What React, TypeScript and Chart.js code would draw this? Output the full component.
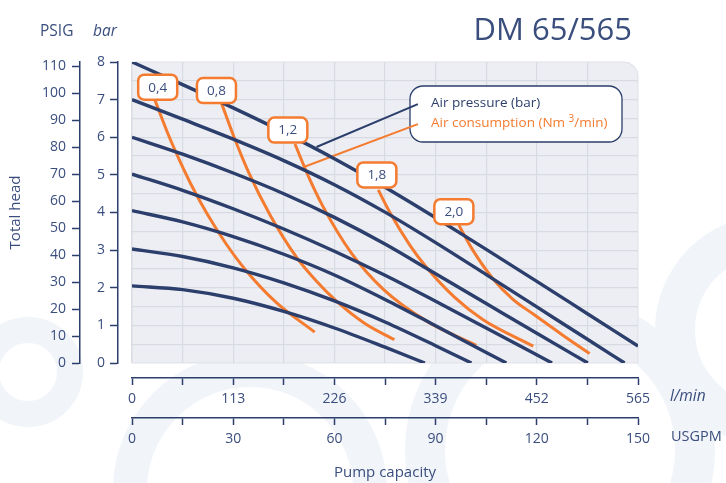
import { useEffect, useRef } from "react";
import { Chart, registerables } from "chart.js";

Chart.register(...registerables);

// ---------- axes ----------
const LPM_RANGE = [0, 565];
const USGPM_RANGE = [0, 150];
const BAR_RANGE = [0, 8];
const PSIG_RANGE = [0, 111.6];

const LPM_TICKS = [0, 56.5, 113, 169.5, 226, 282.5, 339, 395.5, 452, 508.5, 565];
const LPM_LABELS = [0, 113, 226, 339, 452, 565];
const USGPM_TICKS = [0, 15, 30, 45, 60, 75, 90, 105, 120, 135, 150];
const USGPM_LABELS = [0, 30, 60, 90, 120, 150];
const BAR_TICKS = [0, 1, 2, 3, 4, 5, 6, 7, 8];
const PSIG_TICKS = [0, 10, 20, 30, 40, 50, 60, 70, 80, 90, 100, 110];
const GRID_LPM = [0, 56.5, 113, 169.5, 226, 282.5, 339, 395.5, 452, 508.5];
const GRID_BAR = [0.5, 1, 1.5, 2, 2.5, 3, 3.5, 4, 4.5, 5, 5.5, 6, 6.5, 7, 7.5];

// ---------- air pressure curves (l/min -> bar) ----------
const P8_LPM = [0, 56.5, 113, 169.5, 226, 282.5, 339, 395.5, 452, 508.5, 565];
const P8_BAR = [8.0, 7.4, 6.78, 6.13, 5.43, 4.67, 3.86, 3.02, 2.17, 1.31, 0.45];
const P7_LPM = [0, 56.5, 113, 169.5, 226, 282.5, 339, 395.5, 452, 508.5, 550];
const P7_BAR = [7.0, 6.48, 5.95, 5.38, 4.74, 4.01, 3.2, 2.35, 1.49, 0.63, 0];
const P6_LPM = [0, 56.5, 113, 169.5, 226, 282.5, 339, 395.5, 452, 509];
const P6_BAR = [6.0, 5.55, 5.05, 4.5, 3.87, 3.16, 2.37, 1.58, 0.79, 0];
const P5_LPM = [0, 56.5, 113, 169.5, 226, 282.5, 339, 395.5, 469];
const P5_BAR = [5.02, 4.59, 4.1, 3.56, 2.97, 2.33, 1.64, 0.93, 0];
const P4_LPM = [0, 56.5, 113, 169.5, 226, 282.5, 339, 395.5, 418];
const P4_BAR = [4.05, 3.75, 3.36, 2.89, 2.34, 1.69, 0.99, 0.28, 0];
const P3_LPM = [0, 56.5, 113, 169.5, 226, 282.5, 339, 379];
const P3_BAR = [3.03, 2.83, 2.53, 2.13, 1.65, 1.09, 0.46, 0];
const P2_LPM = [0, 56.5, 113, 169.5, 226, 282.5, 327];
const P2_BAR = [2.05, 1.95, 1.72, 1.37, 0.93, 0.42, 0];

// ---------- air consumption curves (l/min -> bar) ----------
const C04_LPM = [25.4, 40, 54, 68, 83, 105, 128, 161, 204];
const C04_BAR = [7.0, 6.1, 5.34, 4.65, 4.0, 3.17, 2.44, 1.61, 0.82];
const C08_LPM = [100, 114, 130, 154, 184, 205, 228, 260, 293];
const C08_BAR = [6.9, 6.0, 5.08, 3.94, 2.8, 2.2, 1.65, 1.05, 0.62];
const C12_LPM = [182, 197, 213, 245, 281, 328.5, 384.4];
const C12_BAR = [5.82, 4.96, 4.17, 2.92, 1.95, 1.12, 0.47];
const C18_LPM = [275, 288, 310, 328.5, 360, 392, 448];
const C18_BAR = [4.6, 4.0, 3.14, 2.55, 1.75, 1.15, 0.45];
const C20_LPM = [365, 380, 403, 425, 448, 481, 511];
const C20_BAR = [3.66, 3.02, 2.24, 1.7, 1.3, 0.74, 0.25];

// ---------- curve labels ----------
const LABEL_TEXT = ["0,4", "0,8", "1,2", "1,8", "2,0"];
const LABEL_LPM = [28.7, 94.3, 174, 273.4, 359.4];
const LABEL_BAR = [7.33, 7.24, 6.19, 5.0, 4.02];

// ---------- legend leader lines ----------
const LEAD_PRESSURE_LPM = [319.2, 206];
const LEAD_PRESSURE_BAR = [6.88, 5.74];
const LEAD_AIR_LPM = [319.2, 191.8];
const LEAD_AIR_BAR = [6.35, 5.21];

const NAVY = "#2b3e6c";
const ORANGE = "#f47b2f";
const TEXT = "#3a4e7e";
const GRID = "#d8dbe2";
const PLOT_BG = "#eceef3";
const FONT = '"Open Sans", sans-serif';

const pts = (xs: number[], ys: number[]) => xs.map((x, i) => ({ x, y: ys[i] }));

function roundRect(ctx: CanvasRenderingContext2D, x: number, y: number, w: number, h: number, r: number) {
  ctx.beginPath();
  ctx.moveTo(x + r, y);
  ctx.lineTo(x + w - r, y);
  ctx.arcTo(x + w, y, x + w, y + r, r);
  ctx.lineTo(x + w, y + h - r);
  ctx.arcTo(x + w, y + h, x + w - r, y + h, r);
  ctx.lineTo(x + r, y + h);
  ctx.arcTo(x, y + h, x, y + h - r, r);
  ctx.lineTo(x, y + r);
  ctx.arcTo(x, y, x + r, y, r);
  ctx.closePath();
}

const decor = {
  id: "decor",
  beforeDraw(chart: any) {
    const { ctx, chartArea: a } = chart;
    ctx.save();
    ctx.fillStyle = "#ffffff";
    ctx.fillRect(0, 0, chart.width, chart.height);
    // faint background swirls
    ctx.strokeStyle = "#f1f4f9";
    const rings = [
      [28, 372, 42, 26],
      [250, 490, 120, 34],
      [560, 450, 135, 40],
      [770, 330, 95, 40],
    ];
    rings.forEach(([cx, cy, r, w]) => {
      ctx.lineWidth = w;
      ctx.beginPath();
      ctx.arc(cx, cy, r, 0, Math.PI * 2);
      ctx.stroke();
    });
    // plot background with rounded top-right corner
    const r = 14;
    ctx.beginPath();
    ctx.moveTo(a.left, a.top);
    ctx.lineTo(a.right - r, a.top);
    ctx.arcTo(a.right, a.top, a.right, a.top + r, r);
    ctx.lineTo(a.right, a.bottom);
    ctx.lineTo(a.left, a.bottom);
    ctx.closePath();
    ctx.fillStyle = PLOT_BG;
    ctx.fill();
    ctx.strokeStyle = "#dfe1e7";
    ctx.lineWidth = 1;
    ctx.stroke();
    ctx.restore();
  },
  beforeDatasetsDraw(chart: any) {
    const { ctx, chartArea: a } = chart;
    ctx.save();
    // legend box
    const bx = a.left + 278, by = a.top + 24, bw = 212, bh = 56;
    roundRect(ctx, bx, by, bw, bh, 13);
    ctx.fillStyle = "#ffffff";
    ctx.fill();
    ctx.strokeStyle = NAVY;
    ctx.lineWidth = 1.3;
    ctx.stroke();
    ctx.textBaseline = "middle";
    ctx.textAlign = "left";
    ctx.font = `13.5px ${FONT}`;
    ctx.fillStyle = NAVY;
    ctx.fillText("Air pressure (bar)", bx + 21, by + 17.5);
    ctx.fillStyle = ORANGE;
    const t1 = "Air consumption (Nm ";
    ctx.fillText(t1, bx + 21, by + 37);
    let x = bx + 21 + ctx.measureText(t1).width;
    ctx.font = `10px ${FONT}`;
    ctx.fillText("3", x, by + 33);
    x += ctx.measureText("3").width;
    ctx.font = `13.5px ${FONT}`;
    ctx.fillText("/min)", x, by + 37);
    ctx.restore();
  },
  afterDatasetsDraw(chart: any) {
    const { ctx } = chart;
    const xs = chart.scales.x, ys = chart.scales.y;
    ctx.save();
    LABEL_TEXT.forEach((t, i) => {
      const cx = xs.getPixelForValue(LABEL_LPM[i]);
      const cy = ys.getPixelForValue(LABEL_BAR[i]);
      const w = 39, h = 25;
      roundRect(ctx, cx - w / 2, cy - h / 2, w, h, 6);
      ctx.fillStyle = "#ffffff";
      ctx.fill();
      ctx.strokeStyle = ORANGE;
      ctx.lineWidth = 2.5;
      ctx.stroke();
      ctx.fillStyle = TEXT;
      ctx.font = `13.5px ${FONT}`;
      ctx.textAlign = "center";
      ctx.textBaseline = "middle";
      ctx.fillText(t, cx, cy + 0.5);
    });
    ctx.restore();
  },
  afterDraw(chart: any) {
    const { ctx } = chart;
    ctx.save();
    ctx.fillStyle = TEXT;
    ctx.textBaseline = "middle";
    ctx.textAlign = "left";
    ctx.font = `15.5px ${FONT}`;
    ctx.fillText("PSIG", 40, 32);
    ctx.font = `italic 15.5px ${FONT}`;
    ctx.fillText("bar", 93, 32);
    ctx.font = `italic 15.5px ${FONT}`;
    ctx.fillText("l/min", 670, 397);
    ctx.font = `14.5px ${FONT}`;
    ctx.fillText("USGPM", 671, 437);
    ctx.font = `31px ${FONT}`;
    ctx.textAlign = "right";
    ctx.textBaseline = "alphabetic";
    ctx.fillText("DM 65/565", 632, 40);
    ctx.restore();
  },
};

const tickFont = { family: FONT, size: 14 };

export default function App() {
  const ref = useRef<HTMLCanvasElement | null>(null);
  useEffect(() => {
    if (!ref.current) return;
    const navyLine = (xs: number[], ys: number[]) => ({
      data: pts(xs, ys),
      borderColor: NAVY,
      borderWidth: 3.4,
      pointRadius: 0,
      cubicInterpolationMode: "monotone" as const,
      fill: false,
    });
    const orangeLine = (xs: number[], ys: number[]) => ({
      data: pts(xs, ys),
      borderColor: ORANGE,
      borderWidth: 3,
      pointRadius: 0,
      cubicInterpolationMode: "monotone" as const,
      fill: false,
    });
    const lead = (xs: number[], ys: number[], c: string) => ({
      data: pts(xs, ys),
      borderColor: c,
      borderWidth: 2,
      pointRadius: 0,
      tension: 0,
      fill: false,
    });
    const chart = new Chart(ref.current, {
      type: "line",
      data: {
        datasets: [
          navyLine(P8_LPM, P8_BAR),
          navyLine(P7_LPM, P7_BAR),
          navyLine(P6_LPM, P6_BAR),
          navyLine(P5_LPM, P5_BAR),
          navyLine(P4_LPM, P4_BAR),
          navyLine(P3_LPM, P3_BAR),
          navyLine(P2_LPM, P2_BAR),
          orangeLine(C04_LPM, C04_BAR),
          orangeLine(C08_LPM, C08_BAR),
          orangeLine(C12_LPM, C12_BAR),
          orangeLine(C18_LPM, C18_BAR),
          orangeLine(C20_LPM, C20_BAR),
          lead(LEAD_PRESSURE_LPM, LEAD_PRESSURE_BAR, NAVY),
          lead(LEAD_AIR_LPM, LEAD_AIR_BAR, ORANGE),
        ] as any,
      },
      options: {
        animation: false,
        responsive: false,
        devicePixelRatio: 1,
        events: [],
        layout: { padding: { left: 0, right: 88, top: 62, bottom: 0 } },
        plugins: { legend: { display: false }, tooltip: { enabled: false } },
        scales: {
          xg: {
            type: "linear",
            position: "bottom",
            weight: 0,
            min: LPM_RANGE[0],
            max: LPM_RANGE[1],
            afterBuildTicks: (s: any) => { s.ticks = GRID_LPM.map((value) => ({ value })); },
            afterFit: (s: any) => { s.height = 15; },
            ticks: { display: false },
            grid: { color: GRID, lineWidth: 1.2, drawTicks: false },
            border: { display: false },
          },
          x: {
            type: "linear",
            position: "bottom",
            weight: 1,
            min: LPM_RANGE[0],
            max: LPM_RANGE[1],
            afterBuildTicks: (s: any) => { s.ticks = LPM_TICKS.map((value) => ({ value })); },
            afterFit: (s: any) => { s.height = 40; },
            ticks: {
              autoSkip: false,
              maxRotation: 0,
              padding: 6,
              color: TEXT,
              font: tickFont,
              callback: (v: any) => (LPM_LABELS.includes(Number(v)) ? String(v) : ""),
            },
            grid: { drawOnChartArea: false, tickLength: 7, tickColor: NAVY, tickWidth: 1.5 },
            border: { color: NAVY, width: 1.5 },
          },
          xu: {
            type: "linear",
            position: "bottom",
            weight: 2,
            min: USGPM_RANGE[0],
            max: USGPM_RANGE[1],
            afterBuildTicks: (s: any) => { s.ticks = USGPM_TICKS.map((value) => ({ value })); },
            afterFit: (s: any) => { s.height = 65; },
            ticks: {
              autoSkip: false,
              maxRotation: 0,
              padding: 6,
              color: TEXT,
              font: tickFont,
              callback: (v: any) => (USGPM_LABELS.includes(Number(v)) ? String(v) : ""),
            },
            grid: { drawOnChartArea: false, tickLength: 7, tickColor: NAVY, tickWidth: 1.5 },
            border: { color: NAVY, width: 1.5 },
            title: {
              display: true,
              text: "Pump capacity",
              color: TEXT,
              font: { family: FONT, size: 15 },
              padding: { bottom: 1, top: 0 },
            },
          },
          yg: {
            type: "linear",
            position: "left",
            weight: 0,
            min: BAR_RANGE[0],
            max: BAR_RANGE[1],
            afterBuildTicks: (s: any) => { s.ticks = GRID_BAR.map((value) => ({ value })); },
            afterFit: (s: any) => { s.width = 14; },
            ticks: { display: false },
            grid: { color: GRID, lineWidth: 1.2, drawTicks: false },
            border: { display: false },
          },
          y: {
            type: "linear",
            position: "left",
            weight: 1,
            min: BAR_RANGE[0],
            max: BAR_RANGE[1],
            afterBuildTicks: (s: any) => { s.ticks = BAR_TICKS.map((value) => ({ value })); },
            afterFit: (s: any) => { s.width = 38; },
            ticks: { padding: 5, color: TEXT, font: tickFont },
            grid: { drawOnChartArea: false, tickLength: 8, tickColor: NAVY, tickWidth: 1.5 },
            border: { color: NAVY, width: 1.5 },
          },
          yp: {
            type: "linear",
            position: "left",
            weight: 2,
            min: PSIG_RANGE[0],
            max: PSIG_RANGE[1],
            afterBuildTicks: (s: any) => { s.ticks = PSIG_TICKS.map((value) => ({ value })); },
            afterFit: (s: any) => { s.width = 80; },
            ticks: { padding: 6, color: TEXT, font: tickFont },
            grid: { drawOnChartArea: false, tickLength: 8, tickColor: NAVY, tickWidth: 1.5 },
            border: { color: NAVY, width: 1.5 },
            title: {
              display: true,
              text: "Total head",
              color: TEXT,
              font: { family: FONT, size: 15 },
              padding: { top: 7, bottom: 0 },
            },
          },
        } as any,
      },
      plugins: [decor],
    });
    return () => chart.destroy();
  }, []);
  return (
    <div style={{ position: "fixed", left: 0, top: 0, width: 726, height: 483, background: "#fff" }}>
      <canvas ref={ref} width={726} height={483} />
    </div>
  );
}
